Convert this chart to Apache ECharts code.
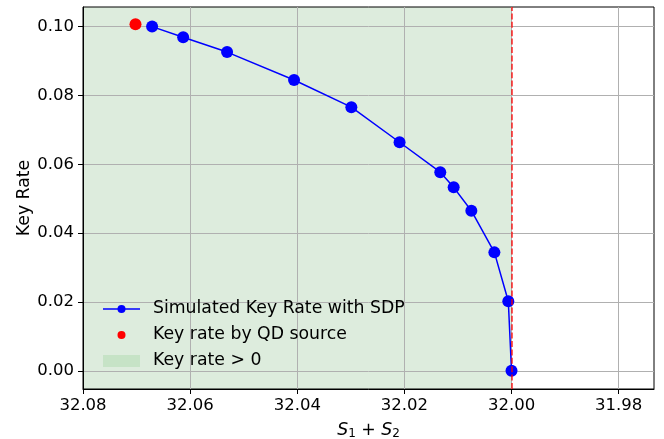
<!DOCTYPE html>
<html>
<head>
<meta charset="utf-8">
<script src="https://cdn.jsdelivr.net/npm/echarts@6/dist/echarts.min.js"></script>
<style>html,body{margin:0;padding:0;background:#fff;}#c{width:664px;height:439px;}</style>
</head>
<body>
<div id="c"></div>
<script>
// Data
const simX = [32.0671, 32.0613, 32.0531, 32.0406, 32.0299, 32.0209, 32.0133, 32.0108, 32.0075, 32.0032, 32.0006, 32.0000];
const simY = [0.1000, 0.0969, 0.0926, 0.0845, 0.0766, 0.0664, 0.0577, 0.0533, 0.0465, 0.0344, 0.0202, 0.0000];
const qdX = [32.0702];
const qdY = [0.1007];
const thresholdX = 32.00;
const regionStart = 32.08;
const xTicks = [32.08, 32.06, 32.04, 32.02, 32.00, 31.98];
const yTicks = [0.00, 0.02, 0.04, 0.06, 0.08, 0.10];
const seriesNames = ['Simulated Key Rate with SDP', 'Key rate by QD source', 'Key rate > 0'];

const FONT = 'DejaVu Sans';
const FS = 16.5;
const FL = 17.3;
const chart = echarts.init(document.getElementById('c'), null, {renderer: 'canvas'});
const simData = simX.map((x, i) => [x, simY[i]]);
const qdData = qdX.map((x, i) => [x, qdY[i]]);
const Y_MIN = -0.0053, Y_MAX = 0.1057;

chart.setOption({
  animation: false,
  backgroundColor: '#fff',
  grid: {left: 83, right: 10, top: 7, bottom: 50, show: true, borderColor: '#000', borderWidth: 1, backgroundColor: 'transparent', outerBoundsMode: 'none', containLabel: false},
  xAxis: {
    type: 'value', inverse: true, min: 31.9734, max: 32.08,
    name: '{i|S}{s|1}{n| + }{i|S}{s|2}', nameLocation: 'middle', nameGap: 33, nameMoveOverlap: false,
    nameTextStyle: {
      rich: {
        i: {fontFamily: FONT, fontStyle: 'italic', fontSize: FL, color: '#000'},
        n: {fontFamily: FONT, fontSize: FL, color: '#000'},
        s: {fontFamily: FONT, fontSize: 12, color: '#000', verticalAlign: 'bottom', padding: [6, 0, 0, 0]}
      }
    },
    axisLine: {show: true, onZero: false, lineStyle: {color: '#000', width: 1}},
    axisTick: {show: true, inside: false, length: 5, customValues: xTicks, lineStyle: {color: '#000', width: 1}},
    axisLabel: {customValues: xTicks, margin: 8, fontFamily: FONT, fontSize: FS, color: '#000', formatter: v => v.toFixed(2)},
    splitLine: {show: true, lineStyle: {color: '#b0b0b0', width: 1}}
  },
  yAxis: {
    type: 'value', min: Y_MIN, max: Y_MAX,
    name: 'Key Rate', nameLocation: 'middle', nameGap: 50, nameMoveOverlap: false,
    nameTextStyle: {fontFamily: FONT, fontSize: FL, color: '#000'},
    axisLine: {show: true, onZero: false, lineStyle: {color: '#000', width: 1}},
    axisTick: {show: true, inside: false, length: 5, customValues: yTicks, lineStyle: {color: '#000', width: 1}},
    axisLabel: {customValues: yTicks, margin: 9, fontFamily: FONT, fontSize: FS, color: '#000', formatter: v => v.toFixed(2)},
    splitLine: {show: true, lineStyle: {color: '#b0b0b0', width: 1}}
  },
  series: [
    {
      name: seriesNames[2], type: 'line', data: [], z: -1,
      markArea: {
        silent: true, z: -1,
        itemStyle: {color: '#ddecdd'},
        data: [[{xAxis: regionStart, yAxis: Y_MIN}, {xAxis: thresholdX, yAxis: Y_MAX}]]
      }
    },
    {
      name: seriesNames[0], type: 'line', data: simData, z: 3,
      symbol: 'circle', symbolSize: 12,
      lineStyle: {color: '#0000ff', width: 1.5},
      itemStyle: {color: '#0000ff'}
    },
    {
      name: seriesNames[1], type: 'scatter', data: qdData, z: 4,
      symbol: 'circle', symbolSize: 12,
      itemStyle: {color: '#ff0000', opacity: 1}
    },
    {
      type: 'line', data: [], z: 5,
      markLine: {
        silent: true, symbol: 'none', label: {show: false},
        lineStyle: {color: '#ff0000', width: 1.5, type: [6, 2.4], opacity: 0.85},
        data: [{xAxis: thresholdX}]
      }
    }
  ],
  graphic: [
    {type: 'line', shape: {x1: 103, y1: 309, x2: 140, y2: 309}, style: {stroke: '#0000ff', lineWidth: 1.5}, z: 10},
    {type: 'circle', shape: {cx: 121.5, cy: 309, r: 4}, style: {fill: '#0000ff'}, z: 10},
    {type: 'circle', shape: {cx: 121.5, cy: 335, r: 4}, style: {fill: '#ff0000'}, z: 10},
    {type: 'rect', shape: {x: 103, y: 355, width: 37, height: 12}, style: {fill: '#c6e3c6'}, z: 10},
    {type: 'text', x: 153, y: 309, style: {text: seriesNames[0], font: FL + 'px "' + FONT + '"', fill: '#000', textVerticalAlign: 'middle'}, z: 10},
    {type: 'text', x: 153, y: 335, style: {text: seriesNames[1], font: FL + 'px "' + FONT + '"', fill: '#000', textVerticalAlign: 'middle'}, z: 10},
    {type: 'text', x: 153, y: 361, style: {text: seriesNames[2], font: FL + 'px "' + FONT + '"', fill: '#000', textVerticalAlign: 'middle'}, z: 10}
  ]
});
</script>
</body>
</html>
